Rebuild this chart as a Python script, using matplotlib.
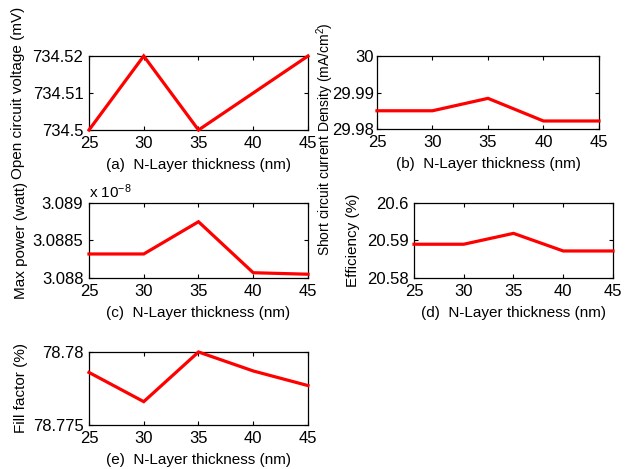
import matplotlib
matplotlib.use('Agg')
import matplotlib.pyplot as plt
from matplotlib.ticker import FuncFormatter

plt.rcParams['font.family'] = ['Liberation Sans', 'DejaVu Sans']
plt.rcParams['mathtext.fontset'] = 'custom'
plt.rcParams['mathtext.rm'] = 'Liberation Sans'
plt.rcParams['mathtext.it'] = 'Liberation Sans'
plt.rcParams['font.size'] = 11

thickness = [25, 30, 35, 40, 45]
voc = [734.50, 734.52, 734.50, 734.51, 734.52]
jsc = [29.9850, 29.9850, 29.9884, 29.9822, 29.9822]
power_e8 = [3.08832, 3.08832, 3.08875, 3.08807, 3.08805]
efficiency = [20.5890, 20.5890, 20.5919, 20.5872, 20.5872]
fill_factor = [78.7786, 78.7766, 78.7800, 78.7787, 78.7777]

xticks = [25, 30, 35, 40, 45]

fig = plt.figure(figsize=(6.37, 4.69), dpi=100)

panels = [
    # rect, values, ylim, yticks, ylabel, xlabel, ylabel x (axes coords)
    ([0.1397, 0.7228, 0.3438, 0.1578], voc, (734.5, 734.52), [734.5, 734.51, 734.52],
     'Open circuit voltage (mV)', '(a)  N-Layer thickness (nm)', -0.29),
    ([0.5918, 0.7249, 0.3485, 0.1557], jsc, (29.98, 30.0), [29.98, 29.99, 30.0],
     'Short circuit current Density (mA/cm$^2$)', '(b)  N-Layer thickness (nm)', -0.185),
    ([0.1397, 0.4073, 0.3438, 0.1599], power_e8, (3.088, 3.089), [3.088, 3.0885, 3.089],
     'Max power (watt)', '(c)  N-Layer thickness (nm)', -0.28),
    ([0.6499, 0.4073, 0.3124, 0.1599], efficiency, (20.58, 20.60), [20.58, 20.59, 20.60],
     'Efficiency (%)', '(d)  N-Layer thickness (nm)', -0.27),
    ([0.1397, 0.0938, 0.3438, 0.1557], fill_factor, (78.775, 78.78), [78.775, 78.78],
     'Fill factor (%)', '(e)  N-Layer thickness (nm)', -0.28),
]

axes = []
for rect, vals, ylim, yticks, ylabel, xlabel, lx in panels:
    ax = fig.add_axes(rect)
    ax.plot(thickness, vals, color='#ff0000', linewidth=2.3, solid_joinstyle='miter',
            clip_on=False, zorder=3)
    ax.set_xlim(25, 45)
    ax.set_ylim(*ylim)
    ax.set_xticks(xticks)
    ax.set_yticks(yticks)
    ax.yaxis.set_major_formatter(FuncFormatter(lambda v, p: '%g' % round(v, 5)))
    ax.tick_params(direction='in', top=True, right=True, length=3, width=0.8,
                   labelsize=12)
    ax.tick_params(axis='x', pad=4.5)
    ax.tick_params(axis='y', pad=4)
    for s in ax.spines.values():
        s.set_linewidth(0.9)
    ax.set_xlabel(xlabel, labelpad=5)
    ax.set_ylabel(ylabel)
    ax.yaxis.set_label_coords(lx, 0.5)
    axes.append(ax)

# the long current-density label sits lower than the axes centre,
# squeezed between panel (a) and its own tick labels
axes[1].yaxis.label.set_fontsize(10)
axes[1].tick_params(axis='y', pad=2)
axes[1].yaxis.set_label_coords(-0.185, -0.14)
axes[2].text(0.0, 1.03, 'x 10$^{-8}$', transform=axes[2].transAxes,
             ha='left', va='bottom', fontsize=11)

fig.savefig('out.png', dpi=100)
